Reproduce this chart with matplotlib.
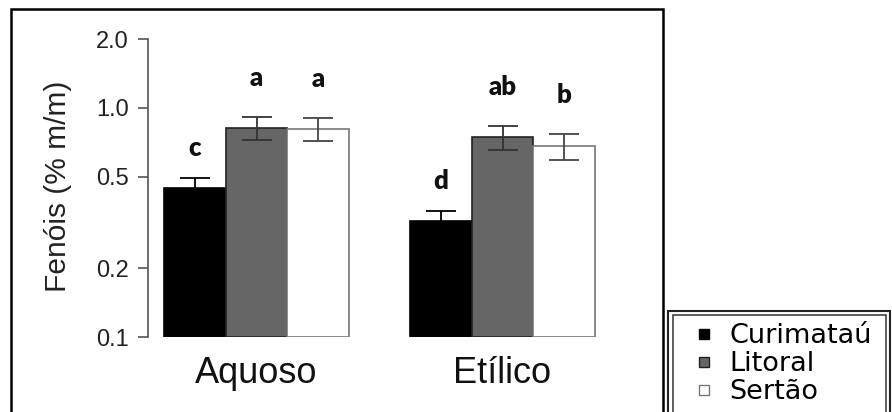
import numpy as np
import matplotlib
matplotlib.use("Agg")
import matplotlib.pyplot as plt
from matplotlib.lines import Line2D
from matplotlib.patches import Rectangle
from matplotlib.ticker import NullLocator

plt.rcParams['font.family'] = ['Liberation Sans', 'DejaVu Sans']

# ---- data ----
groups = ["Aquoso", "Etílico"]
series = ["Curimataú", "Litoral", "Sertão"]
curimatau = [0.448, 0.321]
litoral = [0.82, 0.747]
sertao = [0.81, 0.682]
curimatau_err = [0.047, 0.034]
litoral_err = [0.095, 0.09]
sertao_err = [0.093, 0.09]
curimatau_letters = ["c", "d"]
litoral_letters = ["a", "ab"]
sertao_letters = ["a", "b"]
yticks = [0.1, 0.2, 0.5, 1.0, 2.0]
ytick_labels = ["0.1", "0.2", "0.5", "1.0", "2.0"]

values = [curimatau, litoral, sertao]
errors = [curimatau_err, litoral_err, sertao_err]
letters = [curimatau_letters, litoral_letters, sertao_letters]

# ---- style ----
fills = ["#000000", "#666666", "#ffffff"]
edges = ["#000000", "#222222", "#777777"]
ecolors = ["#000000", "#333333", "#444444"]
letter_offsets = [18, 27, 27]  # pixels above error bar top

W, H = 892, 412
fig = plt.figure(figsize=(W / 100, H / 100), dpi=100)
ax = fig.add_axes([148 / W, (H - 337) / H, (660 - 148) / W, (337 - 39) / H])
ax.set_yscale('log')
ymin, ymax = 0.1, 2.0
ax.set_ylim(ymin, ymax)
ax.set_xlim(0.736, 9.06)

for s in range(len(series)):
    xs = [1.5 + g * 4 + s for g in range(len(groups))]
    v = np.array(values[s])
    ax.bar(xs, v - ymin, bottom=ymin, width=1.0, color=fills[s],
           edgecolor=edges[s], linewidth=1.2, zorder=2)
    ax.errorbar(xs, v, yerr=errors[s], fmt='none', ecolor=ecolors[s],
                elinewidth=1.3, capsize=11, capthick=1.3, zorder=3)
    for g, x in enumerate(xs):
        ax.annotate(letters[s][g], xy=(x, v[g] + errors[s][g]),
                    xytext=(0, letter_offsets[s]), textcoords='offset pixels',
                    ha='center', va='bottom', fontsize=18.5, fontweight='heavy',
                    family=['Lato', 'DejaVu Sans'], color='#111111')

for sp in ['top', 'right', 'bottom']:
    ax.spines[sp].set_visible(False)
ax.spines['left'].set_color('#555555')
ax.spines['left'].set_linewidth(1.2)

ax.set_yticks(yticks)
ax.set_yticklabels(ytick_labels)
ax.yaxis.set_minor_locator(NullLocator())
ax.tick_params(axis='y', length=7, width=1.2, color='#555555', pad=7,
               labelsize=17, labelcolor='#222222')

ax.set_xticks([1.5 + g * 4 + 1 for g in range(len(groups))])
ax.set_xticklabels(groups)
ax.tick_params(axis='x', length=0, pad=14, labelsize=26, labelcolor='#111111')

fig.text(58 / W, 1 - 186 / H, "Fenóis (% m/m)", rotation=90, ha='center',
         va='center', fontsize=21.5, color='#222222')

# outer frame
fig.add_artist(Rectangle((11 / W, -0.05), (663 - 11) / W, 1 - 9 / H + 0.05,
                         transform=fig.transFigure, fill=False, lw=1.8,
                         ec='black', clip_on=False))

# legend box (double border)
fig.add_artist(Rectangle((668 / W, -0.05), (890 - 668) / W, 1 - 311 / H + 0.05,
                         transform=fig.transFigure, fill=False, lw=1.5,
                         ec='#222222', clip_on=False))
fig.add_artist(Rectangle((673 / W, -0.05), (886 - 673) / W, 1 - 315 / H + 0.05,
                         transform=fig.transFigure, fill=False, lw=1.2,
                         ec='#444444', clip_on=False))

handles = [Line2D([], [], marker='s', ls='none', markersize=7.5,
                  markerfacecolor=fills[i], markeredgecolor=edges[i],
                  markeredgewidth=1.0) for i in range(len(series))]
fig.legend(handles, series, loc='upper left',
           bbox_to_anchor=(690 / W, 1 - 323 / H), frameon=False,
           handletextpad=0.45, labelspacing=0.08,
           borderpad=0, handlelength=1.0, borderaxespad=0,
           prop={'family': ['DejaVu Sans'], 'size': 19.5})

fig.savefig("out.png", dpi=100)
